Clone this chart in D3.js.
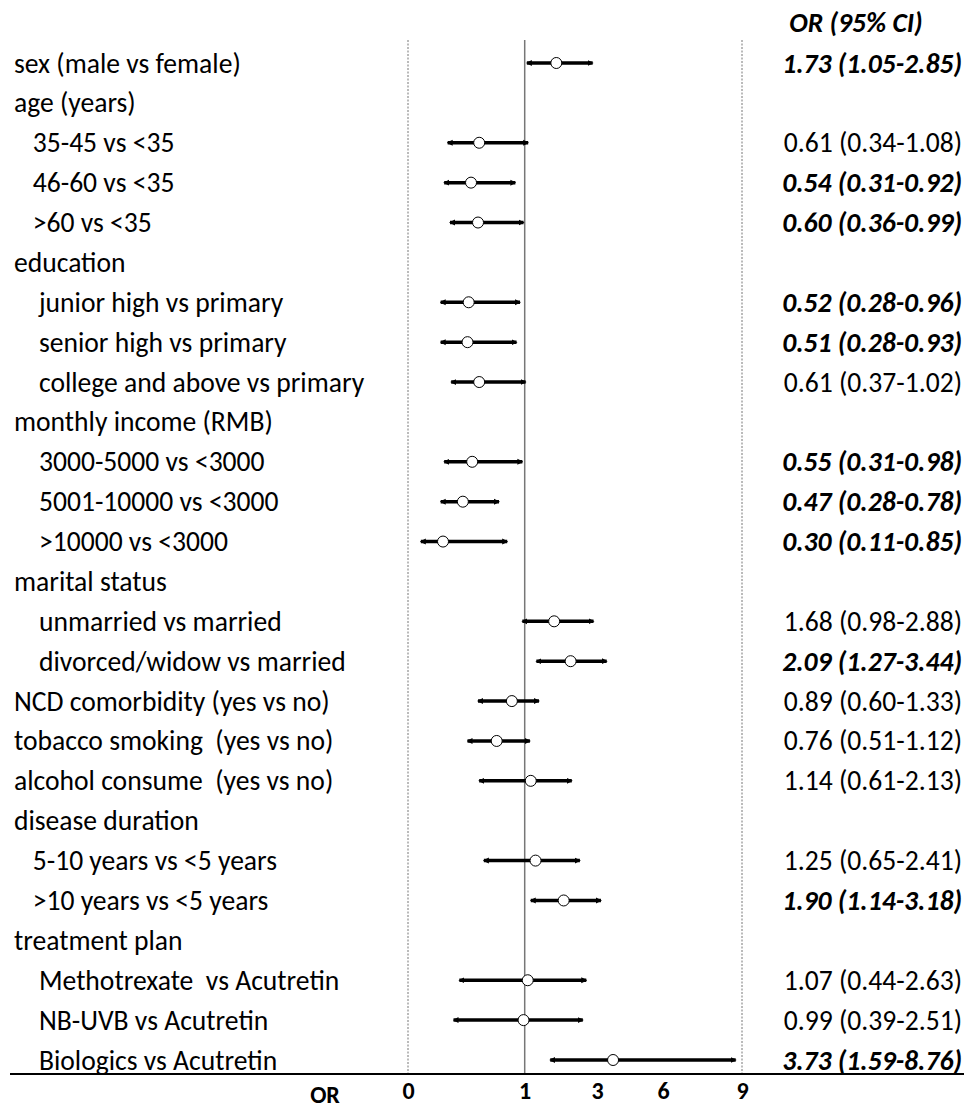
<!DOCTYPE html>
<html>
<head>
<meta charset="utf-8">
<script src="https://cdn.jsdelivr.net/npm/d3@7"></script>
<style>
  body { margin: 0; background: #fff; }
  svg text { font-family: Calibri, Carlito, "Open Sans", sans-serif; fill: #000; }
</style>
</head>
<body>
<div id="chart"></div>
<script>
// Row labels (leading spaces are the indents, as typed in the original table)
const labels = [
    "sex (male vs female)",
    "age (years)",
    "   35-45 vs <35",
    "   46-60 vs <35",
    "   >60 vs <35",
    "education",
    "    junior high vs primary",
    "    senior high vs primary",
    "    college and above vs primary",
    "monthly income (RMB)",
    "    3000-5000 vs <3000",
    "    5001-10000 vs <3000",
    "    >10000 vs <3000",
    "marital status",
    "    unmarried vs married",
    "    divorced/widow vs married",
    "NCD comorbidity (yes vs no)",
    "tobacco smoking  (yes vs no)",
    "alcohol consume  (yes vs no)",
    "disease duration",
    "   5-10 years vs <5 years",
    "   >10 years vs <5 years",
    "treatment plan",
    "    Methotrexate  vs Acutretin",
    "    NB-UVB vs Acutretin",
    "    Biologics vs Acutretin"
];

// odds ratios and 95% CI (null = group header row)
const oddsRatio = [1.73, null, 0.61, 0.54, 0.60, null, 0.52, 0.51, 0.61, null, 0.55, 0.47, 0.30, null, 1.68, 2.09, 0.89, 0.76, 1.14, null, 1.25, 1.90, null, 1.07, 0.99, 3.73];
const ciLower   = [1.05, null, 0.34, 0.31, 0.36, null, 0.28, 0.28, 0.37, null, 0.31, 0.28, 0.11, null, 0.98, 1.27, 0.60, 0.51, 0.61, null, 0.65, 1.14, null, 0.44, 0.39, 1.59];
const ciUpper   = [2.85, null, 1.08, 0.92, 0.99, null, 0.96, 0.93, 1.02, null, 0.98, 0.78, 0.85, null, 2.88, 3.44, 1.33, 1.12, 2.13, null, 2.41, 3.18, null, 2.63, 2.51, 8.76];

const tickValues = [0, 1, 3, 6, 9];
const axisTitle = "OR";
const columnTitle = "OR (95% CI)";

const W = 964, H = 1108;

const svg = d3.select("#chart")
    .append("svg")
    .attr("width", W)
    .attr("height", H);

// OR axis: linear below 1, compressed above 1 (as in the original figure)
const x = d3.scaleLinear()
    .domain([0, 1, 2, 3, 6, 9])
    .range([408, 524.7, 568, 597, 663, 742]);

const y = d3.scalePoint()
    .domain(d3.range(labels.length))
    .range([63, 1060]);

const plotTop = 40, plotBottom = 1074;

// arrow heads on the CI lines
const defs = svg.append("defs");
defs.append("marker")
    .attr("id", "arrow")
    .attr("viewBox", "0 -4 6 8")
    .attr("refX", 5)
    .attr("refY", 0)
    .attr("markerUnits", "userSpaceOnUse")
    .attr("markerWidth", 6)
    .attr("markerHeight", 8)
    .attr("orient", "auto-start-reverse")
    .append("path")
    .attr("d", "M0,-3L6,0L0,3Z")
    .attr("fill", "#000");

// reference lines
svg.append("line")
    .attr("x1", x(0)).attr("x2", x(0))
    .attr("y1", plotTop).attr("y2", plotBottom)
    .attr("stroke", "#777").attr("stroke-width", 1)
    .attr("stroke-dasharray", "2,1.5");

svg.append("line")
    .attr("x1", x(9)).attr("x2", x(9))
    .attr("y1", plotTop).attr("y2", plotBottom)
    .attr("stroke", "#777").attr("stroke-width", 1)
    .attr("stroke-dasharray", "2,1.5");

svg.append("line")
    .attr("x1", x(1)).attr("x2", x(1))
    .attr("y1", plotTop).attr("y2", plotBottom)
    .attr("stroke", "#777").attr("stroke-width", 1.5);

// bottom rule
svg.append("line")
    .attr("x1", 10).attr("x2", W)
    .attr("y1", plotBottom).attr("y2", plotBottom)
    .attr("stroke", "#000").attr("stroke-width", 1.8);

// axis tick labels
const axis = svg.append("g")
    .attr("transform", `translate(0,${plotBottom})`)
    .call(d3.axisBottom(x).tickValues(tickValues).tickSize(0).tickPadding(8).tickFormat(d3.format("d")));
axis.select(".domain").remove();
axis.selectAll("text")
    .style("font-family", "Calibri, Carlito, 'Open Sans', sans-serif")
    .style("font-size", "24px")
    .style("font-weight", "bold");

svg.append("text")
    .attr("x", 325)
    .attr("y", 1094)
    .attr("text-anchor", "middle")
    .attr("dominant-baseline", "central")
    .style("font-size", "24px")
    .style("font-weight", "bold")
    .text(axisTitle);

// row labels
svg.append("g")
    .selectAll("text")
    .data(labels)
    .enter()
    .append("text")
    .attr("x", 14)
    .attr("y", (d, i) => y(i))
    .attr("dominant-baseline", "central")
    .attr("xml:space", "preserve")
    .style("white-space", "pre")
    .style("font-size", "27.6px")
    .text(d => d);

// CI lines and points
const rows = labels.map((label, i) => ({
    i, or: oddsRatio[i], lo: ciLower[i], hi: ciUpper[i]
})).filter(d => d.or !== null);

const marks = svg.append("g");

marks.selectAll("line")
    .data(rows)
    .enter()
    .append("line")
    .attr("x1", d => x(d.lo))
    .attr("x2", d => x(d.hi))
    .attr("y1", d => y(d.i))
    .attr("y2", d => y(d.i))
    .attr("stroke", "#000")
    .attr("stroke-width", 3.5)
    .attr("marker-start", "url(#arrow)")
    .attr("marker-end", "url(#arrow)");

marks.selectAll("circle")
    .data(rows)
    .enter()
    .append("circle")
    .attr("cx", d => x(d.or))
    .attr("cy", d => y(d.i))
    .attr("r", 5.5)
    .attr("fill", "#fff")
    .attr("stroke", "#000")
    .attr("stroke-width", 1);

// OR (95% CI) column
const f2 = d3.format(".2f");

svg.append("text")
    .attr("x", 856)
    .attr("y", 22)
    .attr("text-anchor", "middle")
    .attr("dominant-baseline", "central")
    .style("font-size", "27.6px")
    .style("font-weight", "bold")
    .style("font-style", "italic")
    .text(columnTitle);

svg.append("g")
    .selectAll("text")
    .data(rows)
    .enter()
    .append("text")
    .attr("x", 962)
    .attr("y", d => y(d.i))
    .attr("text-anchor", "end")
    .attr("dominant-baseline", "central")
    .style("font-size", "27.6px")
    .style("font-weight", d => (d.hi < 1 || d.lo > 1) ? "bold" : "normal")
    .style("font-style", d => (d.hi < 1 || d.lo > 1) ? "italic" : "normal")
    .text(d => `${f2(d.or)} (${f2(d.lo)}-${f2(d.hi)})`);
</script>
</body>
</html>
